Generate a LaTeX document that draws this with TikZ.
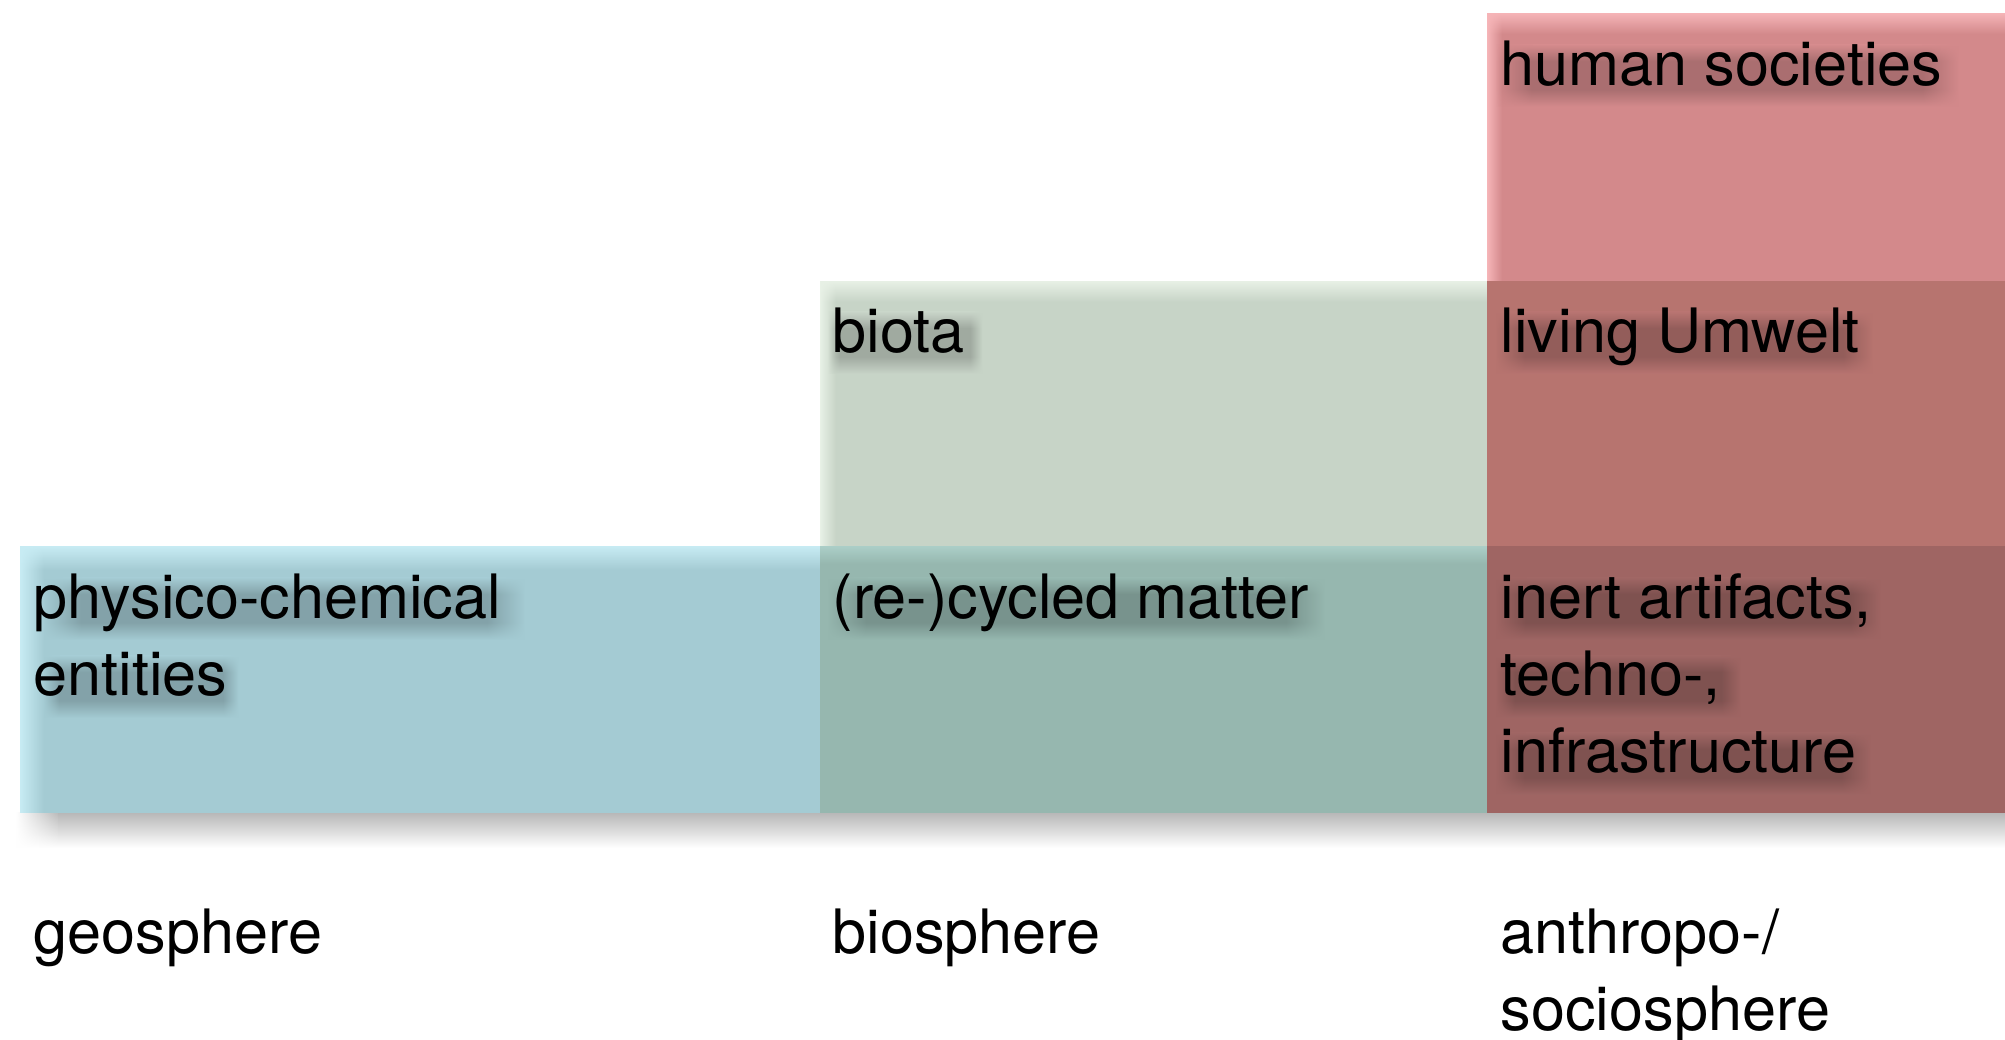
\documentclass[tikz,border=0pt]{standalone}
\usepackage{fontspec}
\setmainfont{TeX Gyre Heros}
\usetikzlibrary{fadings}
\definecolor{geoblue}{RGB}{164,203,211}
\definecolor{biogreen}{RGB}{133,160,133}
\definecolor{anthred}{RGB}{169,21,25}
\definecolor{geoblueL}{RGB}{200,236,244}
\definecolor{biogreenL}{RGB}{232,241,230}
\definecolor{mixL}{RGB}{172,207,200}
\definecolor{anthredL}{RGB}{246,181,184}
% resulting colours of the overlaps (for the soft text shadows)
\definecolor{cB}{RGB}{164,203,211}
\definecolor{cG}{RGB}{200,212,200}
\definecolor{cGB}{RGB}{150,184,176}
\definecolor{cR}{RGB}{212,138,140}
\definecolor{cRG}{RGB}{184,116,113}
\definecolor{cRGB}{RGB}{159,102,100}
\colorlet{cBd}{cB!80!black}
\colorlet{cGd}{cG!80!black}
\colorlet{cGBd}{cGB!80!black}
\colorlet{cRd}{cR!80!black}
\colorlet{cRGd}{cRG!80!black}
\colorlet{cRGBd}{cRGB!80!black}
\newcommand\mksmudge[3]{\pgfdeclareverticalshading{#1}{100bp}{color(0bp)=(#2); color(25bp)=(#2); color(39bp)=(#3); color(62bp)=(#3); color(75bp)=(#2); color(100bp)=(#2)}}
\mksmudge{smB}{cB}{cBd}
\mksmudge{smG}{cG}{cGd}
\mksmudge{smGB}{cGB}{cGBd}
\mksmudge{smR}{cR}{cRd}
\mksmudge{smRG}{cRG}{cRGd}
\mksmudge{smRGB}{cRGB}{cRGBd}
\pgfdeclarehorizontalshading{hsoftsh}{100bp}{color(0bp)=(black); color(25bp)=(black); color(29bp)=(white); color(71bp)=(white); color(75bp)=(black); color(100bp)=(black)}
\tikzfading[name=hsoft, shading=hsoftsh]
\tikzfading[name=leftin, left color=transparent!100, right color=transparent!0]
\tikzfading[name=fadedown, top color=transparent!0, bottom color=transparent!100]
\tikzfading[name=faderight, left color=transparent!0, right color=transparent!100]
\newcommand\firstline{\rule{0pt}{13pt}}
\begin{document}
\begin{tikzpicture}[x=0.01cm,y=-0.01cm,
  lbl/.style={anchor=north west, inner sep=0pt, align=left,
    font=\fontsize{17.4}{21.9}\selectfont, text=black},
  layer/.style={draw=none},
  topglow/.style={fill=#1, path fading=fadedown},
  leftglow/.style={fill=#1, path fading=faderight},
  smudge/.style={shading=#1, path fading=hsoft}]
\useasboundingbox[fill=white] (0,0) rectangle (2005,1040);
% soft shadow under the bands
\shade[top color=black!28, bottom color=white] (58,813) rectangle (2005,848);
\shade[top color=black!28, bottom color=white, path fading=leftin] (16,813) rectangle (60,848);
% the three translucent spheres
\fill[layer, geoblue] (20,546) rectangle (2005,813);
\fill[layer, biogreen, fill opacity=.45] (820,281) rectangle (2005,813);
\fill[layer, anthred, fill opacity=.5] (1487,13) rectangle (2005,813);
% lighter top and left edges
\path[topglow=geoblueL] (20,546) rectangle (820,570);
\path[leftglow=geoblueL] (20,546) rectangle (44,813);
\path[topglow=mixL] (820,546) rectangle (1487,564);
\path[topglow=biogreenL] (820,281) rectangle (1487,302);
\path[leftglow=biogreenL] (820,281) rectangle (836,546);
\path[topglow=anthredL] (1487,13) rectangle (2005,34);
\path[leftglow=anthredL] (1487,13) rectangle (1502,281);
% soft shadows of the texts
\shade[smudge=smR] (1496,45) rectangle (1958,107);
\shade[smudge=smRG] (1496,312) rectangle (1872,374);
\shade[smudge=smG] (828,312) rectangle (982,374);
\shade[smudge=smB] (44,578) rectangle (524,640);
\shade[smudge=smB] (44,656) rectangle (238,718);
\shade[smudge=smGB] (828,578) rectangle (1324,640);
\shade[smudge=smRGB] (1496,578) rectangle (1880,640);
\shade[smudge=smRGB] (1496,656) rectangle (1740,718);
\shade[smudge=smRGB] (1496,733) rectangle (1870,795);
% labels
\node[lbl] (hum) at (1500,39.3) {\firstline human societies};
\node[lbl] (liv) at (1500,306.3) {\firstline living Umwelt};
\node[lbl] (bio) at (832,306.3) {\firstline biota};
\node[lbl] (phy) at (33,572.3) {\firstline physico-chemical\\entities};
\node[lbl] (rec) at (832,572.3) {\firstline (re-)cycled matter};
\node[lbl] (ine) at (1500,572.3) {\firstline inert artifacts,\\techno-,\\infrastructure};
\node[lbl] (geo) at (33,907.3) {\firstline geosphere};
\node[lbl] (bsp) at (832,907.3) {\firstline biosphere};
\node[lbl] (ant) at (1500,907.3) {\firstline anthropo-/\\sociosphere};
\end{tikzpicture}
\end{document}
